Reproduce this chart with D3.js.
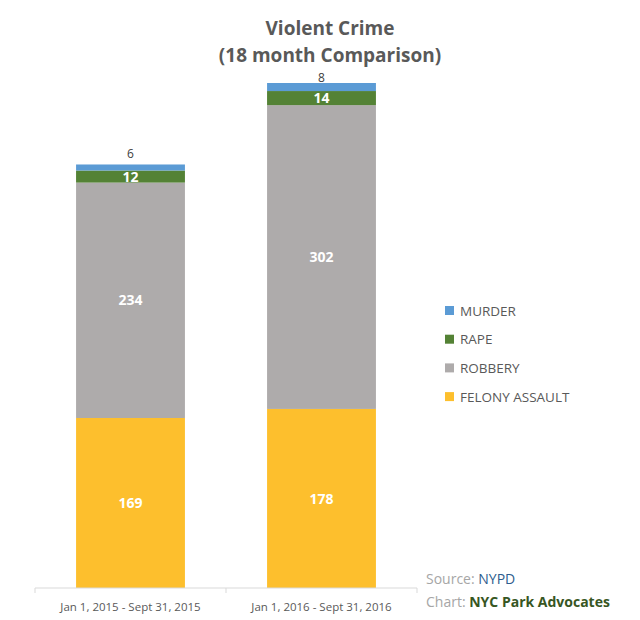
<!DOCTYPE html>
<html>
<head>
<meta charset="utf-8">
<script src="https://cdn.jsdelivr.net/npm/d3@7"></script>
<style>
  body { margin: 0; background: #fff; }
  svg { font-family: "Open Sans", Lato, sans-serif; }
</style>
</head>
<body>
<svg width="640" height="620"></svg>
<script>
// data
const periods = ["Jan 1, 2015 - Sept 31, 2015", "Jan 1, 2016 - Sept 31, 2016"];
const felonyAssault = [169, 178];
const robbery = [234, 302];
const rape = [12, 14];
const murder = [6, 8];

const seriesNames = ["FELONY ASSAULT", "ROBBERY", "RAPE", "MURDER"];
const seriesColors = ["#fdbf2d", "#aeabab", "#548235", "#5b9bd5"];

const svg = d3.select("svg");

// build rows for the stack
const rows = periods.map((p, i) => ({
    period: p,
    "FELONY ASSAULT": felonyAssault[i],
    "ROBBERY": robbery[i],
    "RAPE": rape[i],
    "MURDER": murder[i]
}));
const stacked = d3.stack().keys(seriesNames)(rows);

const x = d3.scaleBand()
    .domain(periods)
    .range([35, 417])
    .paddingInner(0.43)
    .paddingOuter(0.215);

const y = d3.scaleLinear()
    .domain([0, 502])
    .range([588, 83]);

// bars
const layer = svg.append("g")
    .selectAll("g")
    .data(stacked)
    .join("g")
    .attr("fill", (d, i) => seriesColors[i]);

layer.selectAll("rect")
    .data(d => d)
    .join("rect")
    .attr("x", d => x(d.data.period))
    .attr("width", x.bandwidth())
    .attr("y", d => y(d[1]))
    .attr("height", d => y(d[0]) - y(d[1]));

// value labels; murder sits above the bar, kept below the title
stacked.forEach(s => {
    const g = svg.append("g");
    if (s.key === "MURDER") {
        g.selectAll("text")
            .data(s)
            .join("text")
            .attr("x", d => x(d.data.period) + x.bandwidth() / 2)
            .attr("y", d => Math.max(y(d[1]) - 6, 82))
            .attr("text-anchor", "middle")
            .attr("font-size", 12)
            .attr("fill", "#404040")
            .text(d => d[1] - d[0]);
    } else {
        g.selectAll("text")
            .data(s)
            .join("text")
            .attr("x", d => x(d.data.period) + x.bandwidth() / 2)
            .attr("y", d => (y(d[0]) + y(d[1])) / 2)
            .attr("dy", "0.36em")
            .attr("text-anchor", "middle")
            .attr("font-size", 14)
            .attr("font-weight", "bold")
            .attr("fill", "#ffffff")
            .text(d => d[1] - d[0]);
    }
});

// x axis
const xAxis = svg.append("g")
    .attr("transform", "translate(0,588)");
xAxis.append("line")
    .attr("x1", 35).attr("x2", 417)
    .attr("stroke", "#d9d9d9");
const tickPos = [35, 35 + (417 - 35) / 2, 417];
xAxis.selectAll(".tk")
    .data(tickPos)
    .join("line")
    .attr("class", "tk")
    .attr("x1", d => d).attr("x2", d => d)
    .attr("y1", 0).attr("y2", 5)
    .attr("stroke", "#d9d9d9");
xAxis.selectAll("text")
    .data(periods)
    .join("text")
    .attr("x", d => x(d) + x.bandwidth() / 2)
    .attr("y", 23)
    .attr("text-anchor", "middle")
    .attr("font-size", 11.5)
    .attr("fill", "#595959")
    .text(d => d);

// title
const title = svg.append("g")
    .attr("font-weight", "bold")
    .attr("font-size", 19)
    .attr("fill", "#595959")
    .attr("text-anchor", "middle");
title.append("text").attr("x", 330).attr("y", 35).text("Violent Crime");
title.append("text").attr("x", 330).attr("y", 62).text("(18 month Comparison)");

// legend (top-down: murder first)
const legendItems = seriesNames.map((n, i) => ({ name: n, color: seriesColors[i] })).reverse();
const legend = svg.append("g")
    .selectAll("g")
    .data(legendItems)
    .join("g")
    .attr("transform", (d, i) => `translate(445,${311 + i * 28.7})`);
legend.append("rect")
    .attr("x", 0).attr("y", -5)
    .attr("width", 9).attr("height", 9)
    .attr("fill", d => d.color);
legend.append("text")
    .attr("x", 15)
    .attr("dy", "0.35em")
    .attr("font-size", 13.5)
    .attr("fill", "#595959")
    .text(d => d.name);

// source note
const note = svg.append("g").attr("font-size", 14);
const t1 = note.append("text").attr("x", 426).attr("y", 584);
t1.append("tspan").attr("fill", "#a6a6a6").text("Source: ");
t1.append("tspan").attr("fill", "#2e5d8e").text("NYPD");
const t2 = note.append("text").attr("x", 426).attr("y", 607);
t2.append("tspan").attr("fill", "#a6a6a6").text("Chart: ");
t2.append("tspan").attr("fill", "#375623").attr("font-weight", "bold").text("NYC Park Advocates");
</script>
</body>
</html>
